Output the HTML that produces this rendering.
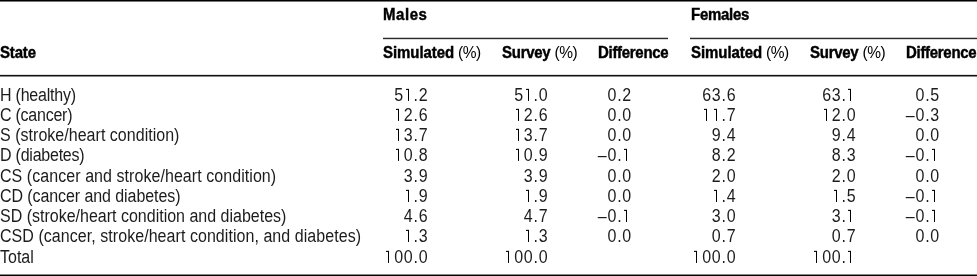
<!DOCTYPE html>
<html><head><meta charset="utf-8"><style>
html,body{margin:0;padding:0;background:#fff;}
body{width:977px;height:276px;position:relative;overflow:hidden;font-family:"Liberation Sans",sans-serif;color:#000;filter:grayscale(1);}
.t{position:absolute;height:0;line-height:0;white-space:nowrap;transform:scaleY(1.1);transform-origin:0 5.544px;}
.t::before{content:"";}
.pc{font-size:15.5px;letter-spacing:-0.45px;}
.t.pc{transform:scaleY(1.03);}
.reg,.num{font-size:16px;color:#1c1c1c;}
.num{letter-spacing:0.75px;}
.b{font-size:15px;font-weight:bold;letter-spacing:-0.6px;-webkit-text-stroke:0.4px #000;}
.t.b{transform:scaleY(1.08);}
.b .n{font-weight:normal;letter-spacing:0;-webkit-text-stroke:0;}
.one{position:relative;color:transparent;}
.one::after{content:"";position:absolute;left:var(--x);width:1.3px;top:3.2px;height:11.3px;background:#000;}
.one::before{content:"";position:absolute;left:calc(var(--x) - 2.4px);width:2.6px;top:3.2px;height:1.15px;background:#000;}
.ln{position:absolute;background:#111;}
</style></head>
<body>
<div class="ln" style="left:0px;width:977px;top:0px;height:1px;background:#000"></div>
<div class="ln" style="left:0px;width:977px;top:1px;height:1px;background:#777"></div>
<div class="ln" style="left:383px;width:285px;top:37px;height:1px;background:#c8c8c8"></div>
<div class="ln" style="left:383px;width:285px;top:38px;height:1px;background:#2a2a2a"></div>
<div class="ln" style="left:383px;width:285px;top:39px;height:1px;background:#d8d8d8"></div>
<div class="ln" style="left:690px;width:287px;top:37px;height:1px;background:#c8c8c8"></div>
<div class="ln" style="left:690px;width:287px;top:38px;height:1px;background:#2a2a2a"></div>
<div class="ln" style="left:690px;width:287px;top:39px;height:1px;background:#d8d8d8"></div>
<div class="ln" style="left:0px;width:977px;top:74px;height:1px;background:#e0e0e0"></div>
<div class="ln" style="left:0px;width:977px;top:75px;height:1px;background:#111"></div>
<div class="ln" style="left:0px;width:977px;top:76px;height:1px;background:#888"></div>
<div class="ln" style="left:0px;width:977px;top:274px;height:1px;background:#888"></div>
<div class="ln" style="left:0px;width:977px;top:275px;height:1px;background:#000"></div>
<div class="t b" style="left:0px;top:53.3px;letter-spacing:-0.17px;transform-origin:0 5.198px">State</div>
<div class="t b" style="left:383px;top:15.3px;letter-spacing:0.55px;transform-origin:0 5.198px">Males</div>
<div class="t b" style="left:383px;top:53.3px;letter-spacing:-0.06px;transform-origin:0 5.198px">Simulated</div>
<div class="t pc" style="left:458px;top:52.96px;transform-origin:0 5.544px">(%)</div>
<div class="t b" style="left:502px;top:53.3px;letter-spacing:-0.27px;transform-origin:0 5.198px">Survey</div>
<div class="t pc" style="left:554.5px;top:52.96px;transform-origin:0 5.544px">(%)</div>
<div class="t b" style="left:598px;top:53.3px;letter-spacing:-0.3px;transform-origin:0 5.198px">Difference</div>
<div class="t b" style="left:691px;top:15.3px;letter-spacing:-0.27px;transform-origin:0 5.198px">Females</div>
<div class="t b" style="left:691px;top:53.3px;letter-spacing:-0.06px;transform-origin:0 5.198px">Simulated</div>
<div class="t pc" style="left:766px;top:52.96px;transform-origin:0 5.544px">(%)</div>
<div class="t b" style="left:810px;top:53.3px;letter-spacing:-0.27px;transform-origin:0 5.198px">Survey</div>
<div class="t pc" style="left:862.5px;top:52.96px;transform-origin:0 5.544px">(%)</div>
<div class="t b" style="left:906px;top:53.3px;letter-spacing:-0.3px;transform-origin:0 5.198px">Difference</div>
<div class="t reg" style="left:0px;top:96.0px;letter-spacing:-0.22px;transform-origin:0 5.544px">H (healthy)</div>
<div class="t r num" style="right:548.7px;top:96.0px">5<span class="one" style="--x:4.1875px">1</span>.2</div>
<div class="t r num" style="right:428.70000000000005px;top:96.0px">5<span class="one" style="--x:4.1875px">1</span>.0</div>
<div class="t r num" style="right:345px;top:96.0px">0.2</div>
<div class="t r num" style="right:240.70000000000005px;top:96.0px">63.6</div>
<div class="t r num" style="right:120.70000000000005px;top:96.0px">63.<span class="one" style="--x:3.3438px">1</span></div>
<div class="t r num" style="right:37px;top:96.0px">0.5</div>
<div class="t reg" style="left:0px;top:116.0px;letter-spacing:-0.24px;transform-origin:0 5.544px">C (cancer)</div>
<div class="t r num" style="right:548.7px;top:116.0px"><span class="one" style="--x:3.8438px">1</span>2.6</div>
<div class="t r num" style="right:428.70000000000005px;top:116.0px"><span class="one" style="--x:3.8438px">1</span>2.6</div>
<div class="t r num" style="right:345px;top:116.0px">0.0</div>
<div class="t r num" style="right:240.70000000000005px;top:116.0px"><span class="one" style="--x:3.8438px">1</span><span class="one" style="--x:4.1875px">1</span>.7</div>
<div class="t r num" style="right:120.70000000000005px;top:116.0px"><span class="one" style="--x:3.8438px">1</span>2.0</div>
<div class="t r num" style="right:37px;top:116.0px">&ndash;0.3</div>
<div class="t reg" style="left:0px;top:136.0px;letter-spacing:0.028px;transform-origin:0 5.544px">S (stroke/heart condition)</div>
<div class="t r num" style="right:548.7px;top:136.0px"><span class="one" style="--x:3.8438px">1</span>3.7</div>
<div class="t r num" style="right:428.70000000000005px;top:136.0px"><span class="one" style="--x:3.8438px">1</span>3.7</div>
<div class="t r num" style="right:345px;top:136.0px">0.0</div>
<div class="t r num" style="right:240.70000000000005px;top:136.0px">9.4</div>
<div class="t r num" style="right:120.70000000000005px;top:136.0px">9.4</div>
<div class="t r num" style="right:37px;top:136.0px">0.0</div>
<div class="t reg" style="left:0px;top:156.0px;letter-spacing:-0.23px;transform-origin:0 5.544px">D (diabetes)</div>
<div class="t r num" style="right:548.7px;top:156.0px"><span class="one" style="--x:3.8438px">1</span>0.8</div>
<div class="t r num" style="right:428.70000000000005px;top:156.0px"><span class="one" style="--x:3.8438px">1</span>0.9</div>
<div class="t r num" style="right:345px;top:156.0px">&ndash;0.<span class="one" style="--x:3.6562px">1</span></div>
<div class="t r num" style="right:240.70000000000005px;top:156.0px">8.2</div>
<div class="t r num" style="right:120.70000000000005px;top:156.0px">8.3</div>
<div class="t r num" style="right:37px;top:156.0px">&ndash;0.<span class="one" style="--x:3.6562px">1</span></div>
<div class="t reg" style="left:0px;top:177.0px;letter-spacing:0.06px;transform-origin:0 5.544px">CS (cancer and stroke/heart condition)</div>
<div class="t r num" style="right:548.7px;top:177.0px">3.9</div>
<div class="t r num" style="right:428.70000000000005px;top:177.0px">3.9</div>
<div class="t r num" style="right:345px;top:177.0px">0.0</div>
<div class="t r num" style="right:240.70000000000005px;top:177.0px">2.0</div>
<div class="t r num" style="right:120.70000000000005px;top:177.0px">2.0</div>
<div class="t r num" style="right:37px;top:177.0px">0.0</div>
<div class="t reg" style="left:0px;top:197.0px;letter-spacing:-0.08px;transform-origin:0 5.544px">CD (cancer and diabetes)</div>
<div class="t r num" style="right:548.7px;top:197.0px"><span class="one" style="--x:4.1875px">1</span>.9</div>
<div class="t r num" style="right:428.70000000000005px;top:197.0px"><span class="one" style="--x:4.1875px">1</span>.9</div>
<div class="t r num" style="right:345px;top:197.0px">0.0</div>
<div class="t r num" style="right:240.70000000000005px;top:197.0px"><span class="one" style="--x:4.1875px">1</span>.4</div>
<div class="t r num" style="right:120.70000000000005px;top:197.0px"><span class="one" style="--x:4.1875px">1</span>.5</div>
<div class="t r num" style="right:37px;top:197.0px">&ndash;0.<span class="one" style="--x:3.6562px">1</span></div>
<div class="t reg" style="left:0px;top:217.0px;letter-spacing:0px;transform-origin:0 5.544px">SD (stroke/heart condition and diabetes)</div>
<div class="t r num" style="right:548.7px;top:217.0px">4.6</div>
<div class="t r num" style="right:428.70000000000005px;top:217.0px">4.7</div>
<div class="t r num" style="right:345px;top:217.0px">&ndash;0.<span class="one" style="--x:3.6562px">1</span></div>
<div class="t r num" style="right:240.70000000000005px;top:217.0px">3.0</div>
<div class="t r num" style="right:120.70000000000005px;top:217.0px">3.<span class="one" style="--x:3.3438px">1</span></div>
<div class="t r num" style="right:37px;top:217.0px">&ndash;0.<span class="one" style="--x:3.6562px">1</span></div>
<div class="t reg" style="left:0px;top:237.0px;letter-spacing:0.053px;transform-origin:0 5.544px">CSD (cancer, stroke/heart condition, and diabetes)</div>
<div class="t r num" style="right:548.7px;top:237.0px"><span class="one" style="--x:4.1875px">1</span>.3</div>
<div class="t r num" style="right:428.70000000000005px;top:237.0px"><span class="one" style="--x:4.1875px">1</span>.3</div>
<div class="t r num" style="right:345px;top:237.0px">0.0</div>
<div class="t r num" style="right:240.70000000000005px;top:237.0px">0.7</div>
<div class="t r num" style="right:120.70000000000005px;top:237.0px">0.7</div>
<div class="t r num" style="right:37px;top:237.0px">0.0</div>
<div class="t reg" style="left:0px;top:258.0px;letter-spacing:0px;transform-origin:0 5.544px">Total</div>
<div class="t r num" style="right:548.7px;top:258.0px"><span class="one" style="--x:3.4844px">1</span>00.0</div>
<div class="t r num" style="right:428.70000000000005px;top:258.0px"><span class="one" style="--x:3.4844px">1</span>00.0</div>
<div class="t r num" style="right:240.70000000000005px;top:258.0px"><span class="one" style="--x:3.4844px">1</span>00.0</div>
<div class="t r num" style="right:120.70000000000005px;top:258.0px"><span class="one" style="--x:3.5px">1</span>00.<span class="one" style="--x:3.3438px">1</span></div>
</body></html>
